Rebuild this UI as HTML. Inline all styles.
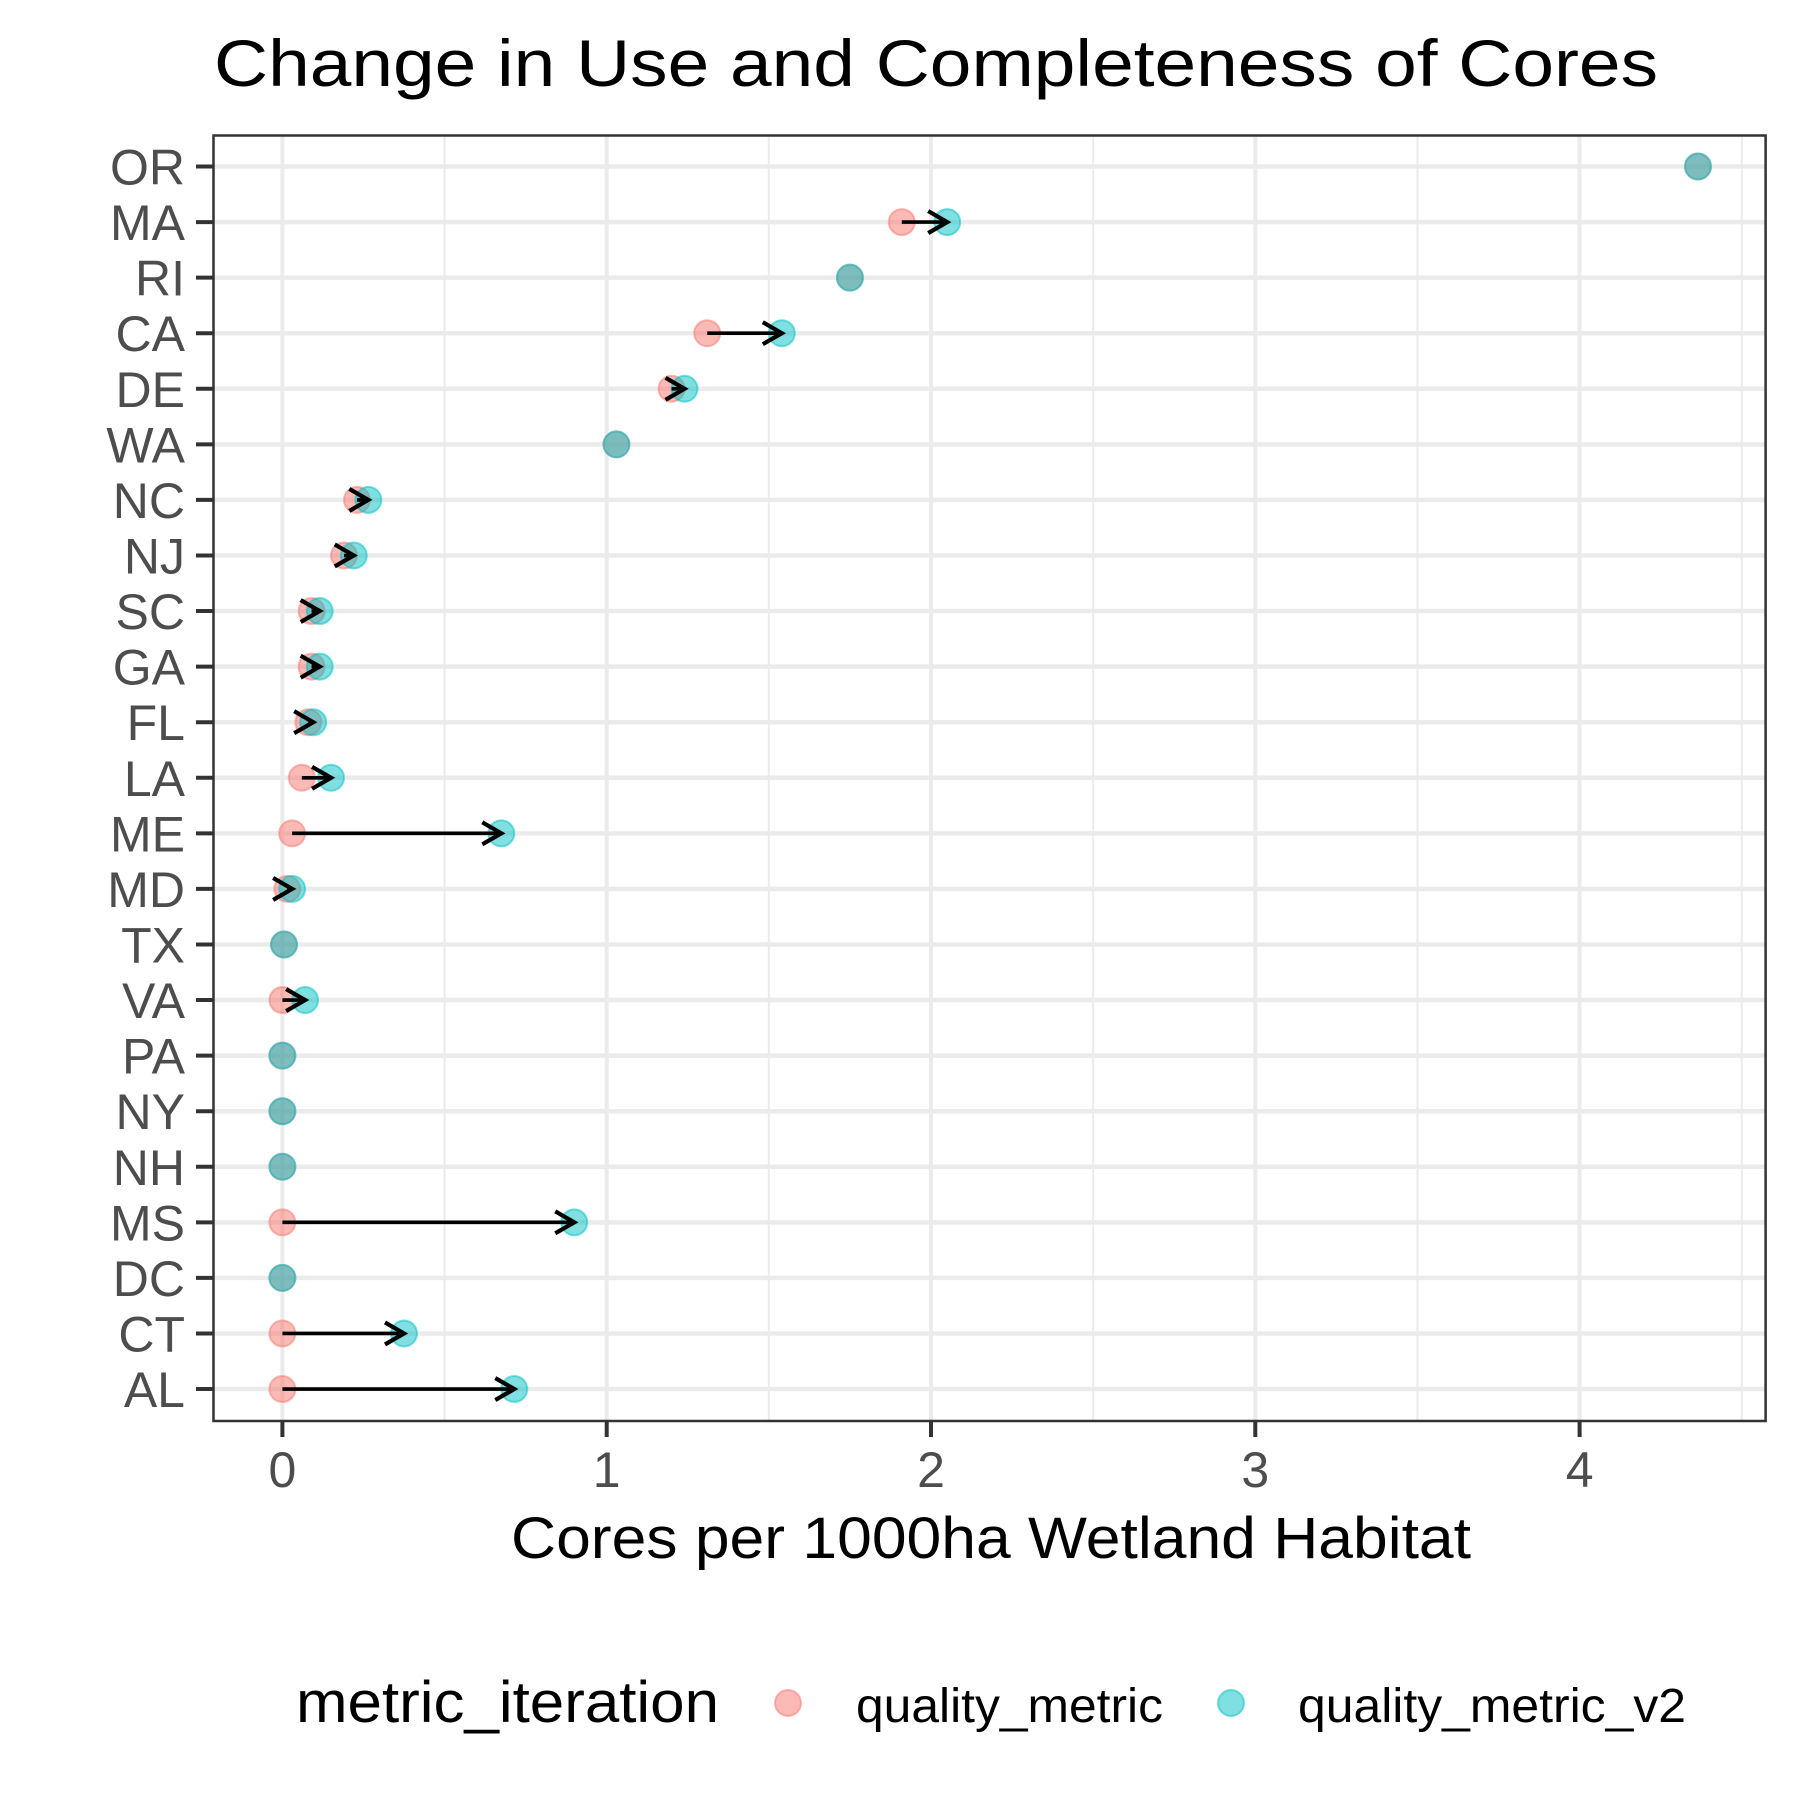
<!DOCTYPE html>
<html><head><meta charset="utf-8"><style>html,body{margin:0;padding:0;background:#fff}svg{display:block}</style></head>
<body>
<svg id="chart" xmlns="http://www.w3.org/2000/svg" width="1800" height="1800" viewBox="0 0 1800 1800" font-family="Liberation Sans, sans-serif">
<rect width="1800" height="1800" fill="#fff"/>
<text x="936" y="86" font-size="66" text-anchor="middle" textLength="1444" lengthAdjust="spacingAndGlyphs" fill="#000">Change in Use and Completeness of Cores</text>
<g id="plot"></g>
<text x="991" y="1558" font-size="58" text-anchor="middle" textLength="960" lengthAdjust="spacingAndGlyphs" fill="#000">Cores per 1000ha Wetland Habitat</text>
<g>
<text x="296" y="1722" font-size="58" textLength="423" lengthAdjust="spacingAndGlyphs" fill="#000">metric_iteration</text>
<g>
<circle cx="788" cy="1703" r="13" fill="#F8766D" fill-opacity="0.5" stroke="#F8766D" stroke-opacity="0.5" stroke-width="2"/>
<text x="856" y="1722" font-size="48" textLength="307" lengthAdjust="spacingAndGlyphs" fill="#000">quality_metric</text></g>
<g>
<circle cx="1231" cy="1703" r="13" fill="#00BFC4" fill-opacity="0.5" stroke="#00BFC4" stroke-opacity="0.5" stroke-width="2"/>
<text x="1298" y="1722" font-size="48" textLength="388" lengthAdjust="spacingAndGlyphs" fill="#000">quality_metric_v2</text></g>
</g>
</svg>
<script>
const states = ["OR","MA","RI","CA","DE","WA","NC","NJ","SC","GA","FL","LA","ME","MD","TX","VA","PA","NY","NH","MS","DC","CT","AL"];
const qualityMetric = [4.365,1.91,1.75,1.31,1.20,1.03,0.23,0.19,0.09,0.09,0.08,0.06,0.03,0.015,0.005,0,0,0,0,0,0,0,0];
const qualityMetricV2 = [4.365,2.05,1.75,1.54,1.24,1.03,0.265,0.22,0.115,0.115,0.095,0.15,0.675,0.03,0.005,0.07,0,0,0,0.9,0,0.375,0.715];
const xTicks = [0,1,2,3,4];
const xMinor = [0.5,1.5,2.5,3.5,4.5];

const NS="http://www.w3.org/2000/svg";
const L=213.5,R=1765.6,T=135.5,B=1421;
const xs=v=>282.4+v*324.3;
const ys=i=>166.5+i*55.57;
const g=document.getElementById('plot');
function mk(tag,attrs,parent){const e=document.createElementNS(NS,tag);for(const k in attrs)e.setAttribute(k,attrs[k]);(parent||g).appendChild(e);return e;}
const bg=mk('rect',{x:L,y:T,width:R-L,height:B-T,fill:'#fff'});


xMinor.forEach(v=>{const x=xs(v);if(x<R){const l=mk('line',{x1:x,x2:x,y1:T,y2:B,stroke:'#ebebeb','stroke-width':2});

}});
xTicks.forEach(v=>{const l=mk('line',{x1:xs(v),x2:xs(v),y1:T,y2:B,stroke:'#ebebeb','stroke-width':4});

});
states.forEach((s,i)=>{const l=mk('line',{x1:L,x2:R,y1:ys(i),y2:ys(i),stroke:'#ebebeb','stroke-width':4.5});

});
states.forEach((s,i)=>{
  const y=ys(i);
  const tk=mk('line',{x1:196,x2:L,y1:y,y2:y,stroke:'#333','stroke-width':4});
  
  
  const t=mk('text',{x:185,y:y+18,'font-size':50,'text-anchor':'end',fill:'#4d4d4d'});
  t.textContent=s;
  
  
});
xTicks.forEach(v=>{
  const tk=mk('line',{x1:xs(v),x2:xs(v),y1:B,y2:B+16,stroke:'#333','stroke-width':4});
  
  
  const t=mk('text',{x:xs(v),y:1487,'font-size':50,'text-anchor':'middle',fill:'#4d4d4d'});
  t.textContent=v;
  
  
});
states.forEach((s,i)=>{
  const y=ys(i),a=qualityMetric[i],b=qualityMetricV2[i];
  const p=mk('circle',{cx:xs(a),cy:y,r:13,fill:'#F8766D','fill-opacity':0.5,stroke:'#F8766D','stroke-opacity':0.5,'stroke-width':2});
  
  
  const q=mk('circle',{cx:xs(b),cy:y,r:13,fill:'#00BFC4','fill-opacity':0.5,stroke:'#00BFC4','stroke-opacity':0.5,'stroke-width':2});
  
  
});
states.forEach((s,i)=>{
  const y=ys(i),a=qualityMetric[i],b=qualityMetricV2[i];
  if(b-a<=0.001)return;
  const x1=xs(a),x2=xs(b);
  const gr=mk('g',{});
  
  
  mk('line',{x1:x1,x2:x2,y1:y,y2:y,stroke:'#000','stroke-width':3.6},gr);
  mk('polyline',{points:`${x2-19},${y-11} ${x2},${y} ${x2-19},${y+11}`,fill:'none',stroke:'#000','stroke-width':4.2},gr);
});
const border=mk('rect',{x:L,y:T,width:R-L,height:B-T,fill:'none',stroke:'#333','stroke-width':2.5});


</script>
</body></html>
